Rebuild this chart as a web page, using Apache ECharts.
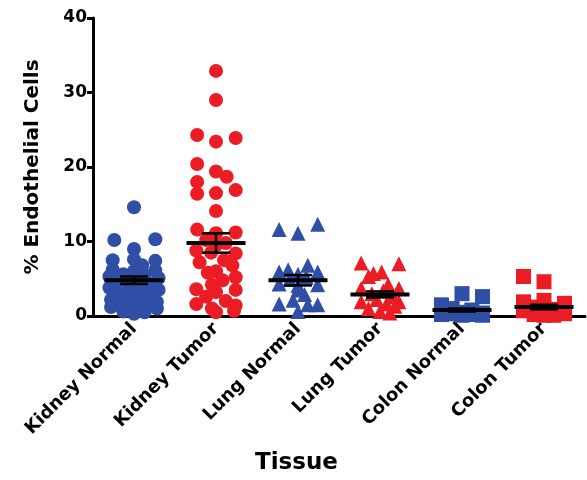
<!DOCTYPE html>
<html>
	<head>
		<meta charset="utf-8">
		<title>Endothelial Cells by Tissue</title>
	</head>
	<style type="text/css">
		* {
			margin: 0;
			padding: 0;
		}

		#chart-container {
			position: relative;
			width: 587px;
			height: 480px;
			overflow: hidden;
		}
	</style>
	<body>
		<div id="chart-container"></div>
		<script src="https://fastly.jsdelivr.net/npm/echarts@6.0.0/dist/echarts.min.js"></script>
	</body>
	<script type="text/javascript">
		// categories on the x axis
		var categories = ['Kidney Normal', 'Kidney Tumor', 'Lung Normal', 'Lung Tumor', 'Colon Normal', 'Colon Tumor'];
		var yTicks = [0, 10, 20, 30, 40];

		// % endothelial cells per sample, with horizontal spread (category units)
		var kidneyNormal = [14.6, 10.2, 10.3, 9.0, 7.5, 7.4, 7.6, 6.8, 6.2, 6.1, 6.0, 5.6, 5.5, 5.3, 5.1, 4.8, 4.6, 4.3, 4.2, 4.0, 3.8, 3.5, 3.3, 3.0, 2.8, 2.6, 2.4, 2.2, 1.9, 1.7, 1.5, 1.4, 1.2, 1.0, 0.8, 0.6, 0.5, 0.3];
		var kidneyNormalSpread = [0, -0.24, 0.26, 0, -0.26, 0.26, 0, 0.1, -0.26, 0.26, 0, -0.13, 0.13, -0.3, 0.3, 0, -0.2, 0.2, -0.06, 0.06, -0.3, 0.3, 0, -0.17, 0.17, -0.04, 0.08, -0.28, 0.28, 0, -0.15, 0.15, -0.28, 0.28, 0, -0.13, 0.13, 0];

		var kidneyTumor = [32.9, 29.0, 24.3, 23.4, 23.9, 20.4, 19.4, 18.7, 18.0, 16.9, 16.4, 16.5, 14.1, 11.6, 11.2, 11.1, 10.2, 9.8, 9.5, 8.8, 8.4, 8.5, 7.5, 7.2, 6.8, 6.0, 5.8, 5.2, 4.8, 4.2, 3.6, 3.5, 3.2, 2.6, 2.0, 1.6, 1.4, 1.0, 0.7, 0.5];
		var kidneyTumorSpread = [0, 0, -0.23, 0, 0.24, -0.23, 0, 0.13, -0.23, 0.24, -0.23, 0, 0, -0.23, 0.24, 0, -0.12, 0.12, 0, -0.24, 0.24, -0.06, 0.1, -0.2, 0.2, 0, -0.1, 0.24, 0.08, -0.05, -0.24, 0.24, 0, -0.12, 0.12, -0.24, 0.24, -0.05, 0.22, 0];

		var lungNormal = [11.6, 11.1, 12.3, 6.8, 6.2, 5.9, 5.9, 5.6, 5.2, 4.9, 4.3, 4.2, 4.1, 3.5, 2.9, 2.1, 1.6, 1.5, 1.5, 0.6];
		var lungNormalSpread = [-0.23, 0, 0.24, 0.12, -0.12, -0.23, 0.24, 0, 0.1, -0.1, -0.23, 0.24, 0, 0, 0.08, -0.06, -0.23, 0.24, 0.12, 0];

		var lungTumor = [7.1, 7.0, 5.7, 5.9, 5.3, 4.2, 3.7, 3.7, 3.4, 3.0, 2.6, 2.2, 1.9, 1.9, 1.6, 1.3, 1.0, 0.6, 0.4];
		var lungTumorSpread = [-0.23, 0.23, -0.08, 0.02, -0.14, 0.1, -0.23, 0.23, 0.04, -0.1, 0.16, -0.04, -0.23, 0.23, 0.08, 0.18, -0.14, 0, 0.12];

		var colonNormal = [1.5, 3.0, 2.6, 1.0, 0.8, 0.6, 0.5, 0.4, 0.3, 0.2, 0.2, 0.1, 0.1];
		var colonNormalSpread = [-0.25, 0, 0.25, -0.12, 0.12, -0.25, 0, 0.25, -0.1, 0.1, -0.25, 0.25, 0];

		var colonTumor = [5.3, 4.6, 1.9, 2.1, 1.7, 1.2, 0.9, 0.7, 0.5, 0.3, 0.2, 0.1, 0.1];
		var colonTumorSpread = [-0.25, 0, -0.25, 0, 0.25, -0.12, 0.12, -0.25, 0, 0.25, -0.12, 0.12, 0];

		// mean and SEM per category
		var means = [4.8, 9.8, 4.8, 2.9, 0.8, 1.2];
		var sems = [0.5, 1.3, 0.7, 0.4, 0.2, 0.3];

		var BLUE = '#2f4fa6';
		var RED = '#ec1c24';
		var FONT = 'DejaVu Sans';

		var dom = document.getElementById('chart-container');
		var myChart = echarts.init(dom, null, {
			renderer: 'canvas'
		});

		function points(idx, values, spread) {
			return values.map(function(v, k) {
				return [idx + spread[k], v];
			});
		}

		function dots(idx, values, spread, color, symbol, size) {
			return {
				type: 'scatter',
				xAxisIndex: 1,
				symbol: symbol,
				symbolSize: size,
				clip: false,
				itemStyle: {
					color: color,
					opacity: 1
				},
				data: points(idx, values, spread)
			};
		}

		var option = {
			animation: false,
			grid: {
				left: 93,
				right: 2,
				top: 18,
				bottom: 164
			},
			xAxis: [{
				type: 'category',
				data: categories,
				axisLine: {
					lineStyle: {
						color: '#000',
						width: 3
					}
				},
				axisTick: {
					alignWithLabel: true,
					length: 6,
					lineStyle: {
						color: '#000',
						width: 3
					}
				},
				axisLabel: {
					rotate: 45,
					margin: 10,
					interval: 0,
					color: '#000',
					fontFamily: FONT,
					fontWeight: 'bold',
					fontSize: 18
				}
			}, {
				type: 'value',
				min: -0.5,
				max: 5.5,
				show: false
			}],
			yAxis: {
				type: 'value',
				min: yTicks[0],
				max: yTicks[yTicks.length - 1],
				interval: 10,
				name: '% Endothelial Cells',
				nameLocation: 'middle',
				nameGap: 50,
				nameTextStyle: {
					color: '#000',
					fontFamily: FONT,
					fontWeight: 'bold',
					fontSize: 20
				},
				axisLine: {
					show: true,
					onZero: false,
					lineStyle: {
						color: '#000',
						width: 3
					}
				},
				axisTick: {
					show: true,
					length: 6,
					lineStyle: {
						color: '#000',
						width: 3
					}
				},
				splitLine: {
					show: false
				},
				axisLabel: {
					margin: 6,
					color: '#000',
					fontFamily: FONT,
					fontWeight: 'bold',
					fontSize: 17
				}
			},
			graphic: [{
				type: 'text',
				left: 255,
				top: 452,
				style: {
					text: 'Tissue',
					fill: '#000',
					font: 'bold 23px "DejaVu Sans"'
				}
			}],
			series: [
				dots(0, kidneyNormal, kidneyNormalSpread, BLUE, 'circle', 14),
				dots(1, kidneyTumor, kidneyTumorSpread, RED, 'circle', 14),
				dots(2, lungNormal, lungNormalSpread, BLUE, 'triangle', 15),
				dots(3, lungTumor, lungTumorSpread, RED, 'triangle', 15),
				dots(4, colonNormal, colonNormalSpread, BLUE, 'rect', 15),
				dots(5, colonTumor, colonTumorSpread, RED, 'rect', 15),
				{
					// mean line with SEM whiskers
					type: 'custom',
					xAxisIndex: 1,
					clip: false,
					z: 10,
					encode: {
						x: 0,
						y: 1
					},
					data: means.map(function(m, i) {
						return [i, m, sems[i]];
					}),
					renderItem: function(params, api) {
						var x = api.value(0), m = api.value(1), s = api.value(2);
						var ml = api.coord([x - 0.36, m]), mr = api.coord([x + 0.36, m]);
						var top = api.coord([x, m + s]), bot = api.coord([x, m - s]);
						var tl = api.coord([x - 0.17, m + s]), tr = api.coord([x + 0.17, m + s]);
						var bl = api.coord([x - 0.17, m - s]), br = api.coord([x + 0.17, m - s]);
						var thin = {
							stroke: '#000',
							lineWidth: 2.5
						};
						return {
							type: 'group',
							children: [{
								type: 'line',
								shape: { x1: top[0], y1: top[1], x2: bot[0], y2: bot[1] },
								style: thin
							}, {
								type: 'line',
								shape: { x1: tl[0], y1: tl[1], x2: tr[0], y2: tr[1] },
								style: thin
							}, {
								type: 'line',
								shape: { x1: bl[0], y1: bl[1], x2: br[0], y2: br[1] },
								style: thin
							}, {
								type: 'line',
								shape: { x1: ml[0], y1: ml[1], x2: mr[0], y2: mr[1] },
								style: { stroke: '#000', lineWidth: 4 }
							}]
						};
					}
				}
			]
		};

		if (option && typeof option === 'object') {
			myChart.setOption(option);
		}

		window.addEventListener('resize', myChart.resize);
	</script>
</html>
